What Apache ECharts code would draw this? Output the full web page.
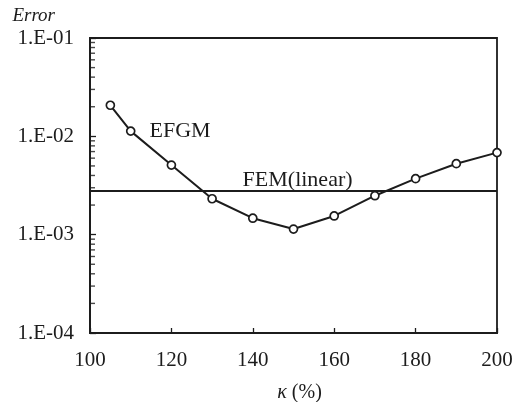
<!DOCTYPE html>
<html>
<head>
<meta charset="utf-8">
<script src="https://cdn.jsdelivr.net/npm/echarts@6/dist/echarts.min.js"></script>
<style>
html,body{margin:0;padding:0;background:#fff;}
#chart{width:532px;height:402px;}
</style>
</head>
<body>
<div id="chart"></div>
<script>
var kappa = [105, 110, 120, 130, 140, 150, 160, 170, 180, 190, 200];
var efgmError = [0.0207, 0.0113, 0.0051, 0.00232, 0.00147, 0.00114, 0.00155, 0.00249, 0.00371, 0.00527, 0.00683];
var femKappa = [100, 151, 200];
var femError = 0.00278;
var xTicks = [100, 120, 140, 160, 180, 200];
var yTickLabels = {'-4': '1.E-04', '-3': '1.E-03', '-2': '1.E-02', '-1': '1.E-01'};
var yMinorTicks = [];
[0.0001, 0.001, 0.01].forEach(function (d) {
  for (var m = 2; m <= 9; m++) yMinorTicks.push(+(d * m).toPrecision(3));
});

var ink = '#1c1c1c';
var font = '"Liberation Serif", "DejaVu Serif", serif';

var chart = echarts.init(document.getElementById('chart'));
chart.setOption({
  backgroundColor: '#ffffff',
  animation: false,
  grid: {left: 90, right: 35, top: 38, bottom: 69, containLabel: false, outerBoundsMode: 'none',
    show: true, borderColor: ink, borderWidth: 1.8, backgroundColor: 'transparent'},
  xAxis: {
    type: 'value', min: 100, max: 200, interval: 20,
    name: '{k|κ} (%)', nameLocation: 'middle', nameGap: 50,
    nameTextStyle: {fontFamily: font, fontSize: 20, color: ink, padding: [0, 0, 0, 12],
      rich: {k: {fontFamily: font, fontStyle: 'italic', fontSize: 20, color: ink}}},
    axisLine: {show: true, lineStyle: {color: ink, width: 2}},
    axisTick: {show: true, inside: true, length: 5, lineStyle: {color: ink, width: 1.3}},
    axisLabel: {fontFamily: font, fontSize: 21, color: ink, margin: 17, formatter: function (v) { return xTicks.indexOf(v) >= 0 ? String(v) : ''; }},
    splitLine: {show: false}
  },
  yAxis: {
    type: 'log', logBase: 10, min: 0.0001, max: 0.1,
    name: 'Error', nameLocation: 'end', nameGap: 13,
    nameTextStyle: {fontFamily: font, fontStyle: 'italic', fontSize: 19, color: ink, align: 'right', padding: [0, 35, 0, 0]},
    axisLine: {show: true, lineStyle: {color: ink, width: 2}},
    axisTick: {show: true, inside: true, length: 6, lineStyle: {color: ink, width: 1.3}},
    axisLabel: {fontFamily: font, fontSize: 21, color: ink, margin: 16, formatter: function (v) {
      var e = Math.round(Math.log10(v));
      return yTickLabels[String(e)] || '';
    }},
    splitLine: {show: false}
  },
  series: [
    {
      type: 'line',
      data: femKappa.map(function (k, i) {
        var item = {value: [k, femError]};
        if (i === 1) {
          item.label = {show: true, formatter: 'FEM(linear)', position: 'top', distance: 0, fontFamily: font, fontSize: 22, color: ink};
        }
        return item;
      }),
      symbol: 'circle', symbolSize: 0, showSymbol: true,
      itemStyle: {color: 'transparent', borderWidth: 0},
      lineStyle: {color: ink, width: 1.8},
      z: 2
    },
    {
      type: 'line',
      data: kappa.map(function (k, i) {
        var item = {value: [k, efgmError[i]]};
        if (k === 110) {
          item.label = {show: true, formatter: 'EFGM', position: 'right', distance: 14, fontFamily: font, fontSize: 22, color: ink};
        }
        return item;
      }),
      symbol: 'circle', symbolSize: 8, showSymbol: true,
      itemStyle: {color: '#fff', borderColor: ink, borderWidth: 1.7},
      lineStyle: {color: ink, width: 2},
      z: 3
    },
    {
      type: 'scatter',
      silent: true,
      clip: false,
      data: yMinorTicks.map(function (v) { return [100, v]; }),
      symbol: 'rect', symbolSize: [5, 1.4], symbolOffset: [2.5, 0],
      itemStyle: {color: ink},
      z: 4
    }
  ]
});
</script>
</body>
</html>
